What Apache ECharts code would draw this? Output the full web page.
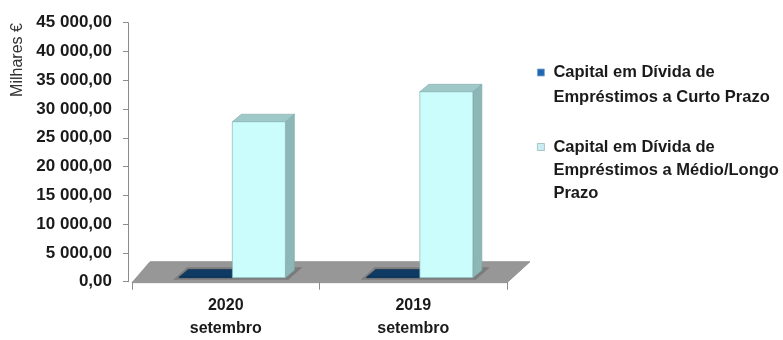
<!DOCTYPE html>
<html><head><meta charset="utf-8">
<script src="https://cdn.jsdelivr.net/npm/echarts@6/dist/echarts.min.js"></script>
<style>html,body{margin:0;padding:0;background:#fff}#c{width:783px;height:340px}</style>
</head><body><div id="c"></div>
<script>
// ---- data ----
const categories = ['2020\nsetembro', '2019\nsetembro'];
const seriesNames = ['Capital em Dívida de Empréstimos a Curto Prazo', 'Capital em Dívida de Empréstimos a Médio/Longo Prazo'];
const legendLines1 = ['Capital em Dívida de', 'Empréstimos a Curto Prazo'];
const legendLines2 = ['Capital em Dívida de', 'Empréstimos a Médio/Longo', 'Prazo'];
const shortTerm = [100, 100];
const longTerm = [27100, 32300];
const yMin = 0, yMax = 45000, yInterval = 5000;
const yAxisTitle = 'Milhares €';

// ---- styling constants ----
const DX = 9, DY = -7.5, LIFT = -4;
const FONT = 'Liberation Sans, Arial, sans-serif';

function fmt(v) {
  const s = Math.round(v).toString().replace(/\B(?=(\d{3})+(?!\d))/g, ' ');
  return s + ',00';
}

function geom(api, c, v, which) {
  const base = api.coord([c, 0]);
  const tp = api.coord([c, v]);
  const bw = api.size([1, 0])[0];
  const w = bw * 0.283;
  const cyanX0 = base[0] + bw * 0.035;
  const x0 = which === 0 ? cyanX0 - w : cyanX0;
  return { x0: x0, x1: x0 + w, yb: base[1] + LIFT, yt: Math.min(tp[1] + LIFT, base[1] + LIFT - 0.6), bw: bw, cx: base[0], cyanX0: cyanX0, w: w };
}

function barRenderer(which, front, side, top, stroke) {
  return function (params, api) {
    const g = geom(api, api.value(0), api.value(1), which);
    const x0 = g.x0, x1 = g.x1, yb = g.yb, yt = g.yt;
    return {
      type: 'group',
      children: [
        { type: 'polygon', shape: { points: [[x1, yt], [x1 + DX, yt + DY], [x1 + DX, yb + DY], [x1, yb]] },
          style: { fill: side, stroke: stroke, lineWidth: 0.6 } },
        { type: 'polygon', shape: { points: [[x0, yt], [x1, yt], [x1 + DX, yt + DY], [x0 + DX, yt + DY]] },
          style: { fill: top, stroke: stroke, lineWidth: 0.6 } },
        { type: 'rect', shape: { x: x0, y: yt, width: x1 - x0, height: yb - yt },
          style: { fill: front, stroke: stroke, lineWidth: 0.6 } }
      ]
    };
  };
}

function floorRenderer(params, api) {
  const cs = params.coordSys;
  const gx = cs.x, gw = cs.width, gb = cs.y + cs.height;
  const children = [];
  if (params.dataIndex === 0) {
    children.push({ type: 'polygon',
      shape: { points: [[gx, gb + 1], [gx + 18, gb - 20], [gx + gw + 23, gb - 20], [gx + gw, gb + 1]] },
      style: { fill: '#979797', stroke: '#8a8a8a', lineWidth: 0.8 } });
  }
  const g0 = geom(api, api.value(0), 0, 0);
  const xl = g0.x0 - 6, xr = g0.cyanX0 + g0.w + 3, yb = g0.yb;
  children.push({ type: 'polygon',
    shape: { points: [[xl, yb + 2], [xr, yb + 2], [xr + DX + 5, yb + DY - 3], [xl + DX + 5, yb + DY - 3]] },
    style: { fill: '#7b7b7b' } });
  return { type: 'group', children: children };
}

const legendText = {
  fontSize: 16.5, fontWeight: 'bold', fontFamily: FONT, color: '#1a1a1a', lineHeight: 24,
  padding: [0, 0, 0, 4]
};

const option = {
  animation: false,
  backgroundColor: '#ffffff',
  grid: { left: 132, right: 276, top: 22.7, bottom: 58.3, containLabel: false },
  xAxis: {
    type: 'category', data: categories, boundaryGap: true,
    axisLine: { show: false },
    axisTick: { show: true, length: 8, lineStyle: { color: '#8c8c8c' } },
    axisLabel: { margin: 12, fontSize: 16, fontWeight: 'bold', fontFamily: FONT, color: '#1a1a1a', lineHeight: 23 },
    splitLine: { show: false }
  },
  yAxis: {
    type: 'value', min: yMin, max: yMax, interval: yInterval, offset: 4,
    axisLine: { show: true, lineStyle: { color: '#8c8c8c' } },
    axisTick: { show: true, length: 5, lineStyle: { color: '#8c8c8c' } },
    axisLabel: { margin: 16, fontSize: 17, fontWeight: 'bold', fontFamily: FONT, color: '#1a1a1a', formatter: fmt },
    splitLine: { show: false }
  },
  legend: [
    { data: [seriesNames[0]], orient: 'vertical', left: 537, top: 71 - 36, padding: 0,
      icon: 'rect', itemWidth: 7, itemHeight: 7, selectedMode: false,
      itemStyle: { borderColor: '#7fa6cf', borderWidth: 0.8 },
      formatter: function () { return '\n' + legendLines1.join('\n'); },
      textStyle: Object.assign({}, legendText, { lineHeight: 25 }) },
    { data: [seriesNames[1]], orient: 'vertical', left: 537, top: 147 - 58, padding: 0,
      icon: 'rect', itemWidth: 7, itemHeight: 7, selectedMode: false,
      itemStyle: { borderColor: '#9bb7bb', borderWidth: 0.8 },
      formatter: function () { return '\n\n' + legendLines2.join('\n'); },
      textStyle: Object.assign({}, legendText, { lineHeight: 23.2 }) }
  ],
  graphic: [
    { type: 'text', x: 18, y: 60, rotation: Math.PI / 2,
      style: { text: yAxisTitle, fontSize: 16, fontFamily: FONT, fill: '#333333', align: 'center', verticalAlign: 'middle',
               textAlign: 'center', textVerticalAlign: 'middle' } }
  ],
  series: [
    { type: 'custom', name: '_floor', silent: true, z: 1,
      data: categories.map(function (c, i) { return [i, 0]; }),
      encode: { x: 0, y: 1 }, renderItem: floorRenderer },
    { type: 'custom', name: seriesNames[0], z: 2,
      itemStyle: { color: '#2266b3' },
      data: shortTerm.map(function (v, i) { return [i, v]; }),
      encode: { x: 0, y: 1 },
      renderItem: barRenderer(0, '#1a4f80', '#143e66', '#0e3a63', '#0b2f52') },
    { type: 'custom', name: seriesNames[1], z: 3,
      itemStyle: { color: '#c8eef2' },
      data: longTerm.map(function (v, i) { return [i, v]; }),
      encode: { x: 0, y: 1 },
      renderItem: barRenderer(1, '#ccfdfd', '#8db7b7', '#9fc9c9', '#7fa8a8') }
  ]
};

const chart = echarts.init(document.getElementById('c'), null, { renderer: 'canvas' });
chart.setOption(option);
</script>
</body></html>
